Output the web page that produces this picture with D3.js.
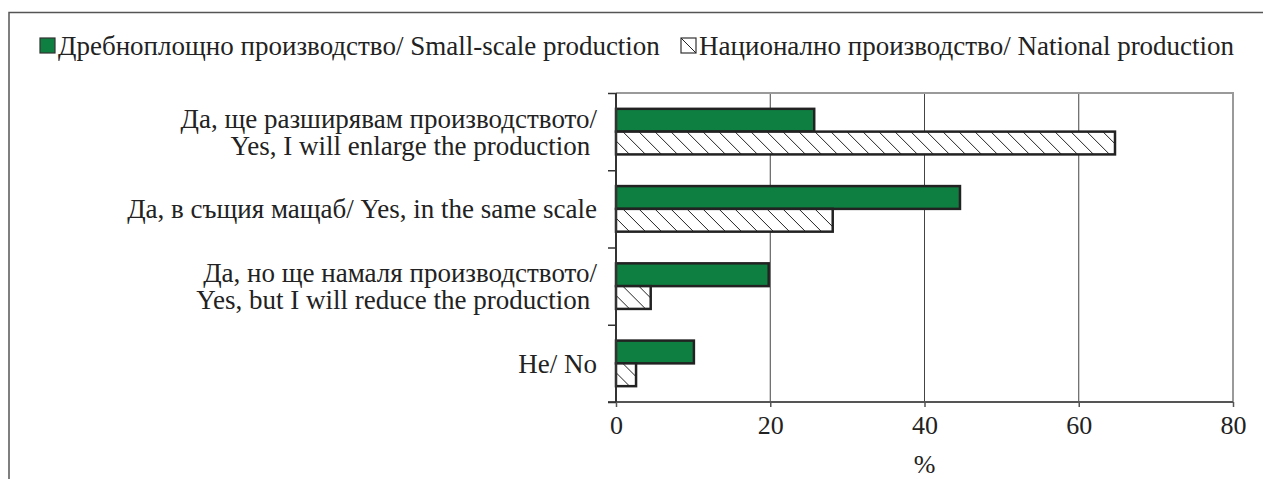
<!DOCTYPE html>
<html>
<head>
<meta charset="utf-8">
<script src="https://cdn.jsdelivr.net/npm/d3@7"></script>
</head>
<body style="margin:0">
<svg class="chart" width="1263" height="479"></svg>
<script>
// data
const categories = [
  ["Да, ще разширявам производството/", "Yes, I will enlarge the production "],
  ["Да, в същия мащаб/ Yes, in the same scale"],
  ["Да, но ще намаля производството/", "Yes, but I will reduce the production "],
  ["Не/ No"]
]
const seriesNames = ["Дребноплощно производство/ Small-scale production", "Национално производство/ National production"]
const smallScale = [25.7, 44.6, 19.8, 10.1]
const national = [64.7, 28.1, 4.5, 2.6]
const xTicks = [0, 20, 40, 60, 80]

const W = 1263, H = 479
const margin = {top: 93, right: 30, bottom: 77, left: 616}
const width = W - margin.left - margin.right,
      height = H - margin.top - margin.bottom
const green = "#0f7f41"

const svg = d3.select(".chart")
    .attr("font-family", "Liberation Serif")
    .attr("font-size", 27)

// hatch pattern
const pat = svg.append("defs").append("pattern")
    .attr("id", "hatch")
    .attr("patternUnits", "userSpaceOnUse")
    .attr("width", 16).attr("height", 16)
pat.append("rect").attr("width", 16).attr("height", 16).attr("fill", "#fff")
pat.append("path")
    .attr("d", "M0,0L16,16M-8,8L8,24M8,-8L24,8")
    .attr("stroke", "#222").attr("stroke-width", 1)

// outer frame (left + top only)
svg.append("path")
    .attr("d", "M9," + H + "V12.5H" + W)
    .attr("fill", "none").attr("stroke", "#555").attr("stroke-width", 1.5)

const chart = svg.append("g")
    .attr("transform", "translate(" + margin.left + "," + margin.top + ")")

let x = d3.scaleLinear().domain([0, 80]).range([0, width])
let y = d3.scaleBand()
    .domain(d3.range(categories.length))
    .range([0, height])
    .paddingInner(0.41).paddingOuter(0.205)

// gridlines
chart.selectAll(".grid")
    .data(xTicks.slice(1, -1))
  .enter().append("line")
    .attr("x1", d => x(d)).attr("x2", d => x(d))
    .attr("y1", 0).attr("y2", height)
    .attr("stroke", "#444").attr("stroke-width", 1)

// plot border top + right
chart.append("path")
    .attr("d", "M0,0H" + x(80) + "V" + height)
    .attr("fill", "none").attr("stroke", "#9a9a9a").attr("stroke-width", 2)

const bh = y.bandwidth() / 2
let grp = chart.selectAll(".cat")
    .data(categories.map((c, i) => ({i: i, a: smallScale[i], b: national[i]})))
  .enter().append("g")
    .attr("transform", d => "translate(0," + y(d.i) + ")")

grp.append("rect")
    .attr("x", 0).attr("y", 0)
    .attr("width", d => x(d.a)).attr("height", bh)
    .attr("fill", green).attr("stroke", "#222").attr("stroke-width", 2.5)
grp.append("rect")
    .attr("x", 0).attr("y", bh)
    .attr("width", d => x(d.b)).attr("height", bh)
    .attr("fill", "url(#hatch)").attr("stroke", "#222").attr("stroke-width", 2.5)

// x axis
let gx = chart.append("g")
    .attr("transform", "translate(0," + height + ")")
    .call(d3.axisBottom(x).tickValues(xTicks).tickSize(5).tickPadding(9))
gx.attr("font-family", null).attr("font-size", 26)
gx.select(".domain").attr("stroke", "#555").attr("stroke-width", 2).attr("d", "M-8,0H" + x(80))
gx.selectAll(".tick line").attr("stroke", "#555").attr("stroke-width", 1.5)
gx.selectAll(".tick text").attr("fill", "#222")

// y axis: ticks at band boundaries
const yEdge = d3.scaleLinear().domain([0, categories.length]).range([0, height])
let gy = chart.append("g")
    .call(d3.axisLeft(yEdge).tickValues(d3.range(categories.length + 1)).tickSize(8).tickFormat(""))
gy.select(".domain").attr("stroke", "#333").attr("stroke-width", 2).attr("d", "M0,0V" + height)
gy.selectAll(".tick line").attr("stroke", "#333").attr("stroke-width", 1.5)

// category labels
const lh = 27
categories.forEach((lines, i) => {
  let cy = y(i) + y.bandwidth() / 2
  let t = chart.append("text")
      .attr("text-anchor", "end")
      .attr("fill", "#222")
      .attr("xml:space", "preserve")
  lines.forEach((ln, j) => {
    t.append("tspan")
      .attr("x", -19)
      .attr("y", cy + (j - (lines.length - 1) / 2) * lh)
      .attr("dy", "0.35em")
      .text(ln)
  })
})

// axis title
chart.append("text")
    .attr("x", width / 2).attr("y", height + 71)
    .attr("text-anchor", "middle")
    .attr("fill", "#222")
    .attr("font-size", 26)
    .text("%")

// legend
const leg = svg.append("g").attr("transform", "translate(0,46)")
const legX = [40, 681]
seriesNames.forEach((name, i) => {
  let g = leg.append("g").attr("transform", "translate(" + legX[i] + ",0)")
  g.append("rect")
      .attr("x", 0).attr("y", -8).attr("width", 15).attr("height", 15)
      .attr("fill", i == 0 ? green : "#fff")
      .attr("stroke", "#333").attr("stroke-width", 1.2)
  if (i == 1) {
    g.append("line").attr("x1", 0).attr("y1", -8).attr("x2", 15).attr("y2", 7)
        .attr("stroke", "#222").attr("stroke-width", 1)
  }
  g.append("text")
      .attr("x", 18).attr("y", 0).attr("dy", "0.35em")
      .attr("fill", "#222")
      .text(name)
})
</script>
</body>
</html>
